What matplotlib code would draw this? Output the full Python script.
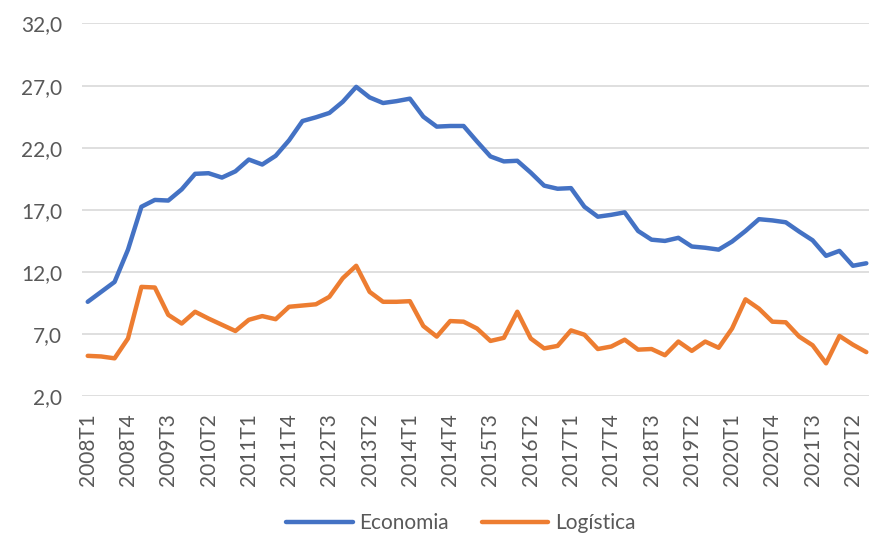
import matplotlib
matplotlib.use("Agg")
import matplotlib.pyplot as plt

# quarters 2008T1 .. 2022T3
quarters = [f"{y}T{q}" for y in range(2008, 2023) for q in range(1, 5)][:59]

economia = [9.6, 10.4, 11.2, 13.8, 17.25, 17.8, 17.75, 18.65, 19.9, 19.95,
            19.6, 20.1, 21.05, 20.65, 21.35, 22.6, 24.15, 24.45, 24.8, 25.7,
            26.9, 26.05, 25.6, 25.75, 25.95, 24.5, 23.7, 23.75, 23.75, 22.5,
            21.3, 20.9, 20.95, 20.0, 18.95, 18.7, 18.75, 17.25, 16.45, 16.6,
            16.8, 15.3, 14.6, 14.5, 14.75, 14.05, 13.95, 13.8, 14.45, 15.3,
            16.25, 16.15, 16.0, 15.25, 14.55, 13.3, 13.7, 12.5, 12.7]

logistica = [5.25, 5.2, 5.05, 6.65, 10.8, 10.75, 8.55, 7.85, 8.8, 8.25,
             7.75, 7.25, 8.15, 8.45, 8.2, 9.2, 9.3, 9.4, 10.0, 11.5,
             12.5, 10.4, 9.6, 9.6, 9.65, 7.65, 6.8, 8.05, 8.0, 7.45,
             6.45, 6.7, 8.8, 6.65, 5.85, 6.05, 7.3, 6.95, 5.8, 6.0,
             6.55, 5.75, 5.8, 5.3, 6.4, 5.65, 6.4, 5.9, 7.45, 9.8,
             9.05, 8.0, 7.95, 6.8, 6.1, 4.65, 6.85, 6.15, 5.55]

plt.rcParams['font.family'] = ['Lato', 'DejaVu Sans']

fig = plt.figure(figsize=(8.69, 5.34), dpi=100)
ax = fig.add_axes([0.094, 0.258, 0.906, 0.698])

x = list(range(len(quarters)))
ax.plot(x, economia, color="#4472C4", lw=3.2, label="Economia", solid_capstyle="round")
ax.plot(x, logistica, color="#ED7D31", lw=3.2, label="Logística", solid_capstyle="round")

ax.set_ylim(2, 32)
ax.set_yticks(range(2, 33, 5))
ax.set_yticklabels([f"{v},0" for v in range(2, 33, 5)])
ax.set_xlim(-0.45, 58.2)
ax.set_xticks(x[::3])
ax.set_xticklabels(quarters[::3], rotation=90)

ax.grid(axis="y", color="#D9D9D9", lw=1.2)
ax.set_axisbelow(True)
for s in ax.spines.values():
    s.set_visible(False)
ax.tick_params(length=0, colors="#595959", labelsize=15)
ax.tick_params(axis="x", pad=12)
ax.tick_params(axis="y", pad=14)

fig.legend(loc="center", bbox_to_anchor=(0.53, 0.02), ncol=2, frameon=False,
           fontsize=15, labelcolor="#595959", handlelength=3.2,
           columnspacing=1.6, handletextpad=0.3)

fig.savefig("out.png", dpi=100)
